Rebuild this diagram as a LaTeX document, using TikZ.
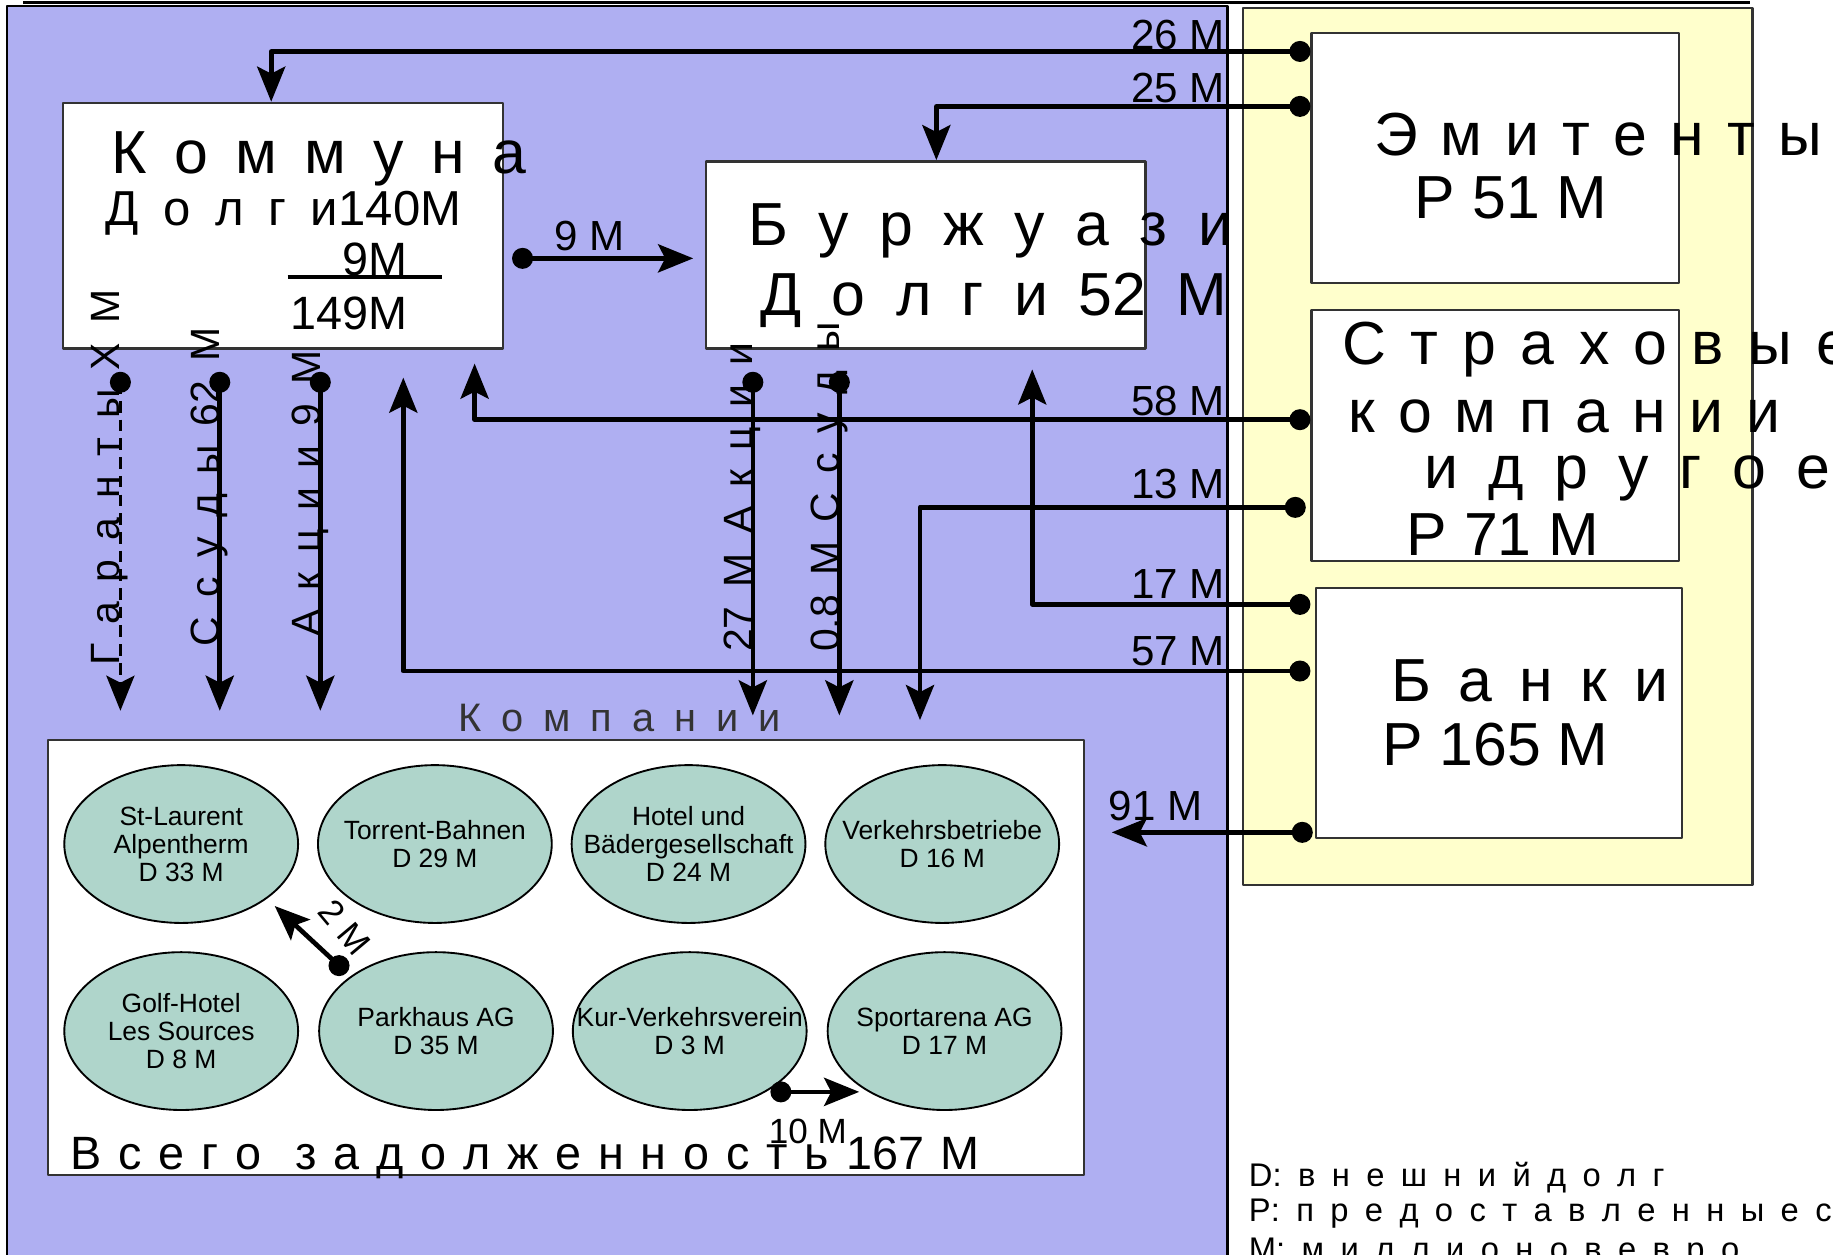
\documentclass[tikz,border=0pt]{standalone}
\usepackage{fontspec}
\setmainfont{Liberation Sans}
\usetikzlibrary{arrows.meta}
\usetikzlibrary{shapes.geometric}
\usetikzlibrary{calc}
\definecolor{lila}{RGB}{175,175,242}
\definecolor{gelb}{RGB}{255,255,204}
\definecolor{mint}{RGB}{175,213,203}
\definecolor{rand}{RGB}{51,51,51}
\newcommand\sperr[1]{\spaceskip #1em\relax}
\tikzset{
  kasten/.style={draw=rand,fill=white,line width=1pt,inner sep=0pt},
  firma/.style={ellipse,draw,fill=mint,line width=0.8pt,minimum width=100pt,minimum height=67.5pt,inner sep=0pt},
  firmtext/.style={align=center,inner sep=0pt,font=\fontsize{11.3}{12}\selectfont},
  titel/.style={anchor=base west,inner sep=0pt,font=\fontsize{26}{30}\selectfont\sperr{0.45}},
  wert/.style={anchor=base west,inner sep=0pt,font=\fontsize{26}{30}\selectfont},
  betrag/.style={anchor=base east,inner sep=0pt,font=\fontsize{18}{20}\selectfont},
  senk/.style={anchor=base west,inner sep=0pt,rotate=90,font=\fontsize{17.5}{20}\selectfont\sperr{0.47}},
  fluss/.style={line width=2pt,-{Stealth[length=15pt,width=12pt,inset=3pt]}},
}
\begin{document}
\begin{tikzpicture}[x=0.5pt,y=-0.5pt,line join=round]
\useasboundingbox (0,0) rectangle (1568,1073);
\fill[white] (0,0) rectangle (1568,1073);
% Hintergrund
\draw[fill=lila,line width=1pt] (6,5) rectangle (1050,1090);
\draw[fill=gelb,line width=1pt,draw=rand] (1063,7) rectangle (1499,757);
\draw[line width=1.5pt] (20,2) -- (1497,2);
% Kaesten
\node[kasten,minimum width=188pt,minimum height=105pt] (kom) at (242,193) {};
\node[kasten,minimum width=188pt,minimum height=80pt] (bur) at (792,218) {};
\node[kasten,minimum width=157pt,minimum height=107pt] (emi) at (1279,135) {};
\node[kasten,minimum width=157pt,minimum height=107.5pt] (ver) at (1279,372.5) {};
\node[kasten,minimum width=156.5pt,minimum height=107pt] (ban) at (1282.5,610) {};
\node[kasten,minimum width=443pt,minimum height=186pt] (fir) at (484,819) {};
% Texte der Kaesten
\node[titel] (komT) at (95,148) {К о м м у н а};
\node[titel,font=\fontsize{21}{24}\selectfont\sperr{0.5}] (komD) at (90,193) {Д о л г и140M};
\node[wert,font=\fontsize{20}{24}\selectfont] (kom9) at (293,236) {9M};
\draw[line width=2pt] (246,237) -- (378,237);
\node[wert,font=\fontsize{20}{24}\selectfont] (kom149) at (248,282) {149M};
\node[titel,font=\fontsize{26}{30}\selectfont\sperr{0.5}] (burT) at (640,210) {Б у р ж у а з и};
\node[titel,font=\fontsize{26}{30}\selectfont\sperr{0.5}] (burD) at (650,270) {Д о л г и 52 M};
\node[titel,font=\fontsize{26}{30}\selectfont\sperr{0.38}] (emiT) at (1175,133) {Э м и т е н т ы};
\node[wert] (emiP) at (1210,187) {P 51 M};
\node[titel,font=\fontsize{26}{30}\selectfont\sperr{0.4}] (verT) at (1148,312) {С т р а х о в ы е};
\node[titel,font=\fontsize{26}{30}\selectfont\sperr{0.38}] (verK) at (1153,370) {к о м п а н и и};
\node[titel,font=\fontsize{26}{30}\selectfont\sperr{0.5}] (verA) at (1218,418) {и д р у г о е};
\node[wert] (verP) at (1203,475) {P 71 M};
\node[titel] (banT) at (1190,600) {Б а н к и};
\node[wert] (banP) at (1182,655) {P 165 M};
% Firmen
\foreach \x/\y/\n/\t in {155/722/sl/{St-Laurent\\Alpentherm\\D 33 M},372/722/tb/{Torrent-Bahnen\\D 29 M},
                         589/722/hb/{Hotel und\\Bädergesellschaft\\D 24 M},806/722/vb/{Verkehrsbetriebe\\D 16 M},
                         155/882/gh/{Golf-Hotel\\Les Sources\\D 8 M},373/882/pa/{Parkhaus AG\\D 35 M},
                         590/882/kv/{Kur-Verkehrsverein\\D 3 M},808/882/sa/{Sportarena AG\\D 17 M}}
    {\node[firma] (\n) at (\x,\y) {};
     \node[firmtext] at (\n) {\t};}
\node[titel,text=rand,font=\fontsize{17}{20}\selectfont\sperr{0.5}] (firT) at (392,626) {К о м п а н и и};
\node[titel,font=\fontsize{20}{24}\selectfont\sperr{0.36}] (firS) at (60,1000) {В с е г о\ \ з а д о л ж е н н о с т ь 167 M};
% Punkte
\path (1112,44) coordinate (e26) (1112,91) coordinate (e25) (1112,359) coordinate (v58) (1108,434) coordinate (v13)
      (1112,517) coordinate (b17) (1112,574) coordinate (b57) (1114,712) coordinate (b91);
\path (kom.north) ++(-10,0) coordinate (k26) (bur.north) ++(9,0) coordinate (r25)
      (kom.south) ++(164,12) coordinate (k58) (bur.south) ++(91,17) coordinate (r17)
      (kom.south) ++(103,24) coordinate (k57) (fir.north) ++(303,-16) coordinate (f13)
      (fir.east) ++(23,-107) coordinate (f91);
\path (103,327) coordinate (g0) (103,608) coordinate (g1) (188,327) coordinate (s0) (188,608) coordinate (s1)
      (274,327) coordinate (a0) (274,608) coordinate (a1) (644,327) coordinate (c0) (644,612) coordinate (c1)
      (718,327) coordinate (d0) (718,612) coordinate (d1) (447,221) coordinate (n0) (593,221) coordinate (n1)
      (290,826) coordinate (p0) (235,775) coordinate (p1) (668,934) coordinate (q0) (735,934) coordinate (q1);
% Fluesse
\draw[fluss] (e26) -| (k26);
\draw[fluss] (e25) -| (r25);
\draw[fluss] (v58) -| (k58);
\draw[fluss] (v13) -| (f13);
\draw[fluss] (b17) -| (r17);
\draw[fluss] (b57) -| (k57);
\draw[fluss] (b91) -- (f91);
\draw[fluss,line width=1.5pt,dash pattern=on 5pt off 3pt] (g0) -- (g1);
\foreach \u/\v in {s0/s1,a0/a1,c0/c1,d0/d1,n0/n1,p0/p1,q0/q1}
    \draw[fluss] (\u) -- (\v);
\foreach \d in {e26,e25,v58,v13,b17,b57,b91,g0,s0,a0,c0,d0,n0,p0,q0}
    \fill (\d) circle (4.5pt);
% Betraege
\node[betrag] (l26) at (1048,42) {26 M};
\node[betrag] (l25) at (1048,88) {25 M};
\node[betrag] (l58) at (1048,355) {58 M};
\node[betrag] (l13) at (1048,426) {13 M};
\node[betrag] (l17) at (1048,512) {17 M};
\node[betrag] (l57) at (1048,569) {57 M};
\node[betrag,anchor=base west] (l91) at (948,702) {91 M};
\node[betrag,anchor=base west] (l9) at (474,214) {9 M};
\node[betrag,anchor=base,font=\fontsize{15}{18}\selectfont] (l10) at (691,978) {10 M};
\node[betrag,anchor=base,rotate=-50,font=\fontsize{15}{18}\selectfont] (l2) at (287,800) {2 M};
\node[senk] (lg) at (102,570) {Г а р а н т ы X M};
\node[senk] (ls) at (188,553) {С с у д ы 62 M};
\node[senk] (la) at (274,545) {А к ц и и 9 M};
\node[senk] (lc) at (644,558) {27 M А к ц и и};
\node[senk] (ld) at (718,558) {0.8 M С с у д ы};
% Legende
\node[titel,font=\fontsize{14}{16}\selectfont\sperr{0.5}] (leg1) at (1068,1015) {D: в н е ш н и й д о л г};
\node[titel,font=\fontsize{14}{16}\selectfont\sperr{0.5}] (leg2) at (1068,1045) {P: п р е д о с т а в л е н н ы е с};
\node[titel,font=\fontsize{14}{16}\selectfont\sperr{0.5}] (leg3) at (1068,1078) {M: м и л л и о н о в е в р о};
\end{tikzpicture}
\end{document}
